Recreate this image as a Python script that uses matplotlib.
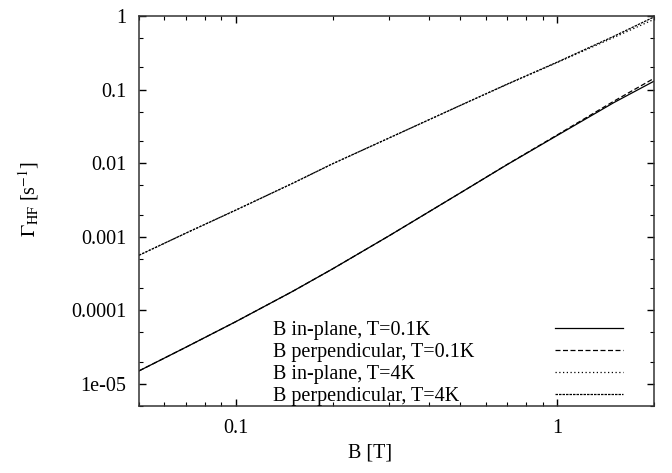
import numpy as np
import matplotlib
matplotlib.use("Agg")
import matplotlib.pyplot as plt
from matplotlib.ticker import FixedLocator, FixedFormatter, NullFormatter

plt.rcParams['font.family'] = ['Liberation Serif', 'DejaVu Serif']
plt.rcParams['mathtext.fontset'] = 'stix'

# field values [T]
B = [0.05, 0.07, 0.1, 0.15, 0.2, 0.3, 0.5, 0.7, 1.0, 1.5, 2.0]

# relaxation rates [1/s]
inplane_01K = [1.5e-5, 3.15e-5, 7.0e-5, 1.8e-4, 3.65e-4, 1.03e-3, 3.95e-3, 9.6e-3, 0.0238, 0.0665, 0.13]
perp_01K = [1.5e-5, 3.15e-5, 7.0e-5, 1.8e-4, 3.65e-4, 1.03e-3, 3.95e-3, 9.65e-3, 0.0242, 0.0695, 0.142]
inplane_4K = [5.6e-4, 1.12e-3, 2.3e-3, 5.3e-3, 9.8e-3, 0.022, 0.061, 0.118, 0.233, 0.51, 0.90]
perp_4K = [5.6e-4, 1.12e-3, 2.3e-3, 5.3e-3, 9.8e-3, 0.022, 0.061, 0.119, 0.236, 0.53, 0.97]

labels = ["B in-plane, T=0.1K", "B perpendicular, T=0.1K",
          "B in-plane, T=4K", "B perpendicular, T=4K"]

yticks = [1e-5, 1e-4, 1e-3, 1e-2, 1e-1, 1]
ytick_labels = ["1e-05", "0.0001", "0.001", "0.01", "0.1", "1"]
xticks = [0.1, 1]
xtick_labels = ["0.1", "1"]

fig = plt.figure(figsize=(6.72, 4.73), dpi=100)
ax = fig.add_axes([139/672, 67/473, 515/672, 390/473])

lw = 0.9
ax.plot(B, inplane_01K, color='black', lw=lw, label=labels[0])
ax.plot(B, perp_01K, color='black', lw=lw, dashes=(4, 2), label=labels[1])
ax.plot(B, inplane_4K, color='black', lw=lw, dashes=(1, 2), label=labels[2])
ax.plot(B, perp_4K, color='black', lw=lw, dashes=(2, 0.8), label=labels[3])

ax.set_xscale('log')
ax.set_yscale('log')
ax.set_xlim(0.05, 2)
ax.set_ylim(5e-6, 1)

ax.xaxis.set_major_locator(FixedLocator(xticks))
ax.xaxis.set_major_formatter(FixedFormatter(xtick_labels))
ax.xaxis.set_minor_locator(FixedLocator([0.05, 0.06, 0.07, 0.08, 0.09, 0.2, 0.3, 0.4,
                                         0.5, 0.6, 0.7, 0.8, 0.9, 2]))
ax.xaxis.set_minor_formatter(NullFormatter())
ax.yaxis.set_major_locator(FixedLocator(yticks))
ax.yaxis.set_major_formatter(FixedFormatter(ytick_labels))
ax.yaxis.set_minor_locator(FixedLocator([m * 10.0**e for e in range(-6, 0) for m in (2, 5)]))
ax.yaxis.set_minor_formatter(NullFormatter())

ax.tick_params(which='both', direction='in', top=True, right=True, labelsize=14.5, pad=9)
ax.tick_params(which='major', length=5, width=1)
ax.tick_params(which='minor', length=3, width=0.8)
for s in ax.spines.values():
    s.set_linewidth(1.1)
    s.set_color('#333333')

ax.set_xlabel("B [T]", fontsize=14.5)
ax.xaxis.set_label_coords(0.449, -0.095)
ax.set_ylabel(r"$\Gamma_{\mathrm{HF}}$ [s$^{\mathrm{-1}}$]", fontsize=14.5)
ax.yaxis.set_label_coords(-0.19, 0.53)

leg = ax.legend(loc='lower right', bbox_to_anchor=(0.94, 0.0), frameon=False, markerfirst=False,
                fontsize=14.5, handlelength=3.4, handletextpad=4, labelspacing=0.15,
                borderpad=0, borderaxespad=0)

# gnuplot style key: text left aligned, samples lined up on the right
fig.canvas.draw()
renderer = fig.canvas.get_renderer()
widths = [t.get_window_extent(renderer).width for t in leg.get_texts()]
col = leg._legend_handle_box.get_children()[0]
col.align = 'left'
for row, w in zip(col.get_children(), widths):
    row.sep = row.sep + (max(widths) - w) * 72 / fig.dpi

fig.savefig("out.png", dpi=100)
